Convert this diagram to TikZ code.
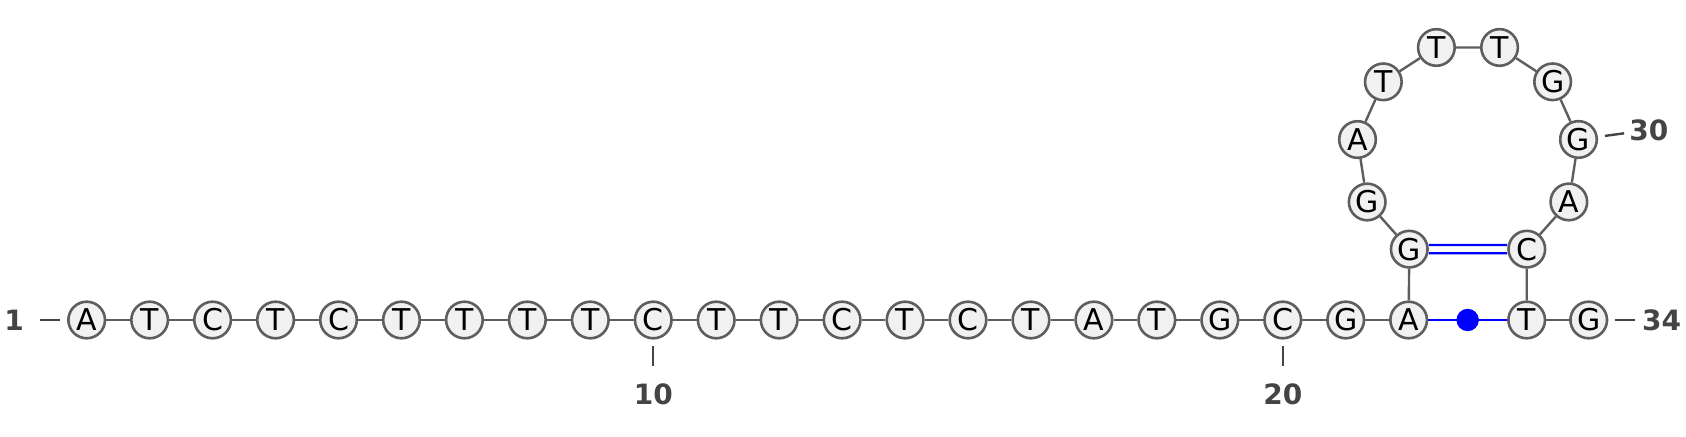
\documentclass[tikz,border=0pt]{standalone}
\usepackage{fontspec}
\setmainfont{DejaVu Sans}
\usetikzlibrary{calc}
\definecolor{baseedge}{HTML}{5E5E5E}
\definecolor{basefill}{HTML}{F1F1F1}
\definecolor{numgray}{HTML}{444444}
\definecolor{pairblue}{HTML}{0000FF}

\begin{document}
\begin{tikzpicture}[x=0.5pt, y=0.5pt,
  base/.style={draw=baseedge, fill=basefill, circle, line width=1.3pt, minimum size=18.3pt, inner sep=0pt, font=\fontsize{15}{15}\selectfont},
  chain/.style={draw=baseedge, line width=1.2pt},
  pairline/.style={draw=pairblue, line width=1.1pt},
  tick/.style={draw=numgray, line width=1.2pt},
  num/.style={text=numgray, font=\fontsize{14}{14}\selectfont\bfseries},
  pairdot/.style={circle, fill=pairblue, minimum size=11.2pt, inner sep=0pt}]
\useasboundingbox (0,0) rectangle (1686,437);

% straight strand
\foreach \b [count=\i] in {A,T,C,T,C,T,T,T,T,C,T,T,C,T,C,T,A,T,G,C,G,A}
  \node[base] (n\i) at ({86.7+(\i-1)*62.95},117) {\b};
% hairpin loop
\foreach \b [count=\k from 0] in {G,G,A,T,T,T,G,G,A,C} {
  \pgfmathtruncatemacro{\j}{23+\k}
  \node[base] (n\j) at ($(1468,282.6)+({238.2-\k*32.93}:111.5)$) {\b};
}
\node[base] (n33) at (1526.7,117) {T};
\node[base] (n34) at (1588.7,117) {G};

% backbone
\foreach \i [evaluate=\i as \n using int(\i+1)] in {1,...,33}
  \draw[chain] (n\i) -- (n\n);

% pairs
\draw[pairline] ([yshift=2.1pt]n23.east) -- ([yshift=2.1pt]n32.west);
\draw[pairline] ([yshift=-2.1pt]n23.east) -- ([yshift=-2.1pt]n32.west);
\draw[pairline, line width=1.3pt] (n22) -- (n33) node[pos=0.5, pairdot] (gt) {};

% numbering
\draw[tick] ($(n1)+(-26.7,0)$) -- ($(n1)+(-46.7,0)$);
\node[num] (l1) at ($(n1)+(-72.7,0)$) {1};
\draw[tick] ($(n10)+(0,-26)$) -- ($(n10)+(0,-46)$);
\node[num] (l10) at ($(n10)+(0,-74)$) {10};
\draw[tick] ($(n20)+(0,-26)$) -- ($(n20)+(0,-46)$);
\node[num] (l20) at ($(n20)+(0,-74)$) {20};
\draw[tick] ($(n30)+(7.7:26.7)$) -- ($(n30)+(7.7:46)$);
\node[num] (l30) at ($(n30)+(7.7:71)$) {30};
\draw[tick] ($(n34)+(26.3,0)$) -- ($(n34)+(46.3,0)$);
\node[num] (l34) at ($(n34)+(73,0)$) {34};
\end{tikzpicture}
\end{document}
